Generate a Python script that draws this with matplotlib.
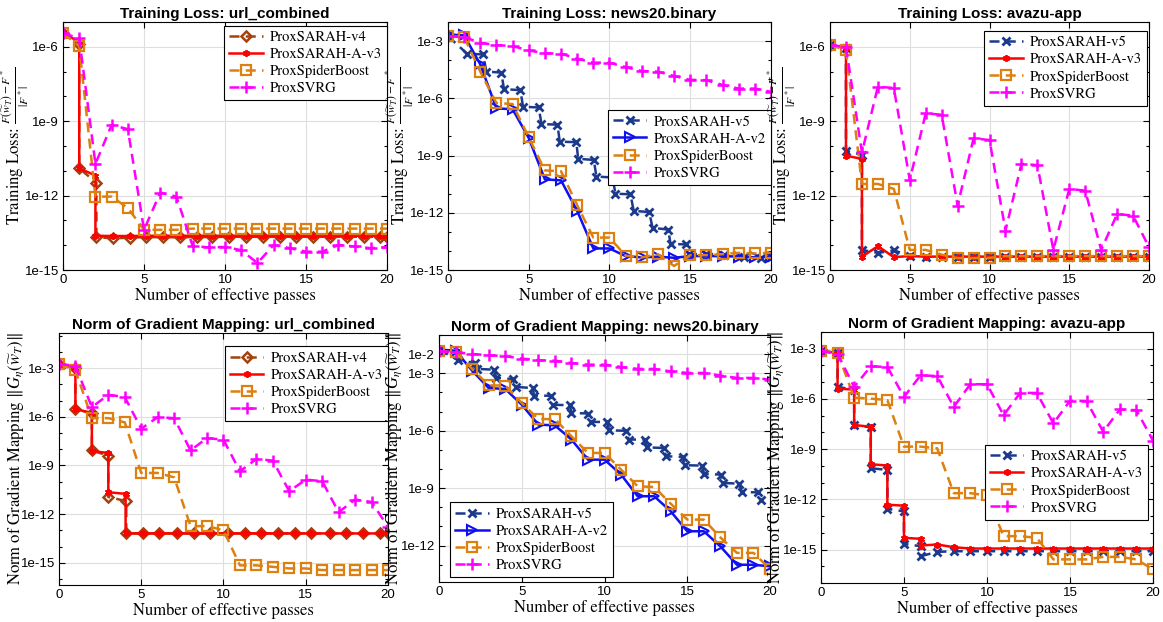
import numpy as np
import matplotlib
matplotlib.use("Agg")
import matplotlib.pyplot as plt
from matplotlib.ticker import FixedLocator, FuncFormatter, NullFormatter

plt.rcParams['mathtext.fontset'] = 'stix'
plt.rcParams['font.family'] = ['Liberation Sans', 'DejaVu Sans']

# all y values are log10 of the plotted quantity
passes = list(range(21))

# --- Training loss: url_combined
url_loss_v4_x = [0, 1, 1, 2.06, 2.06, 3.09, 4.12, 5.11, 6.19, 7.22, 8.25, 9.22, 10.27,
                 11.3, 12.37, 13.4, 14.39, 15.46, 16.49, 17.53, 18.56, 19.59, 20]
url_loss_v4_y = [-5.45, -5.9, -10.9, -11.48, -13.68, -13.72, -13.7, -13.67, -13.68, -13.68,
                 -13.67, -13.67, -13.66, -13.66, -13.66, -13.66, -13.66, -13.66, -13.66,
                 -13.66, -13.66, -13.66, -13.65]
url_loss_a3_x = [0, 1, 1, 2, 2, 3.09, 4.12, 5.11, 6.19, 7.22, 8.25, 9.22, 10.27,
                 11.3, 12.37, 13.4, 14.39, 15.46, 16.49, 17.53, 18.56, 19.59, 20]
url_loss_a3_y = [-5.45, -5.8, -10.9, -11.19, -13.62, -13.63, -13.63, -13.62, -13.62, -13.62,
                 -13.62, -13.62, -13.62, -13.62, -13.62, -13.62, -13.62, -13.62, -13.62,
                 -13.62, -13.62, -13.62, -13.62]
url_loss_spider_y = [-5.45, -5.97, -12.04, -12.04, -12.5, -13.38, -13.38, -13.38, -13.33, -13.33,
                     -13.33, -13.33, -13.33, -13.33, -13.33, -13.33, -13.33, -13.33, -13.33,
                     -13.33, -13.33]
url_loss_svrg_y = [-5.45, -5.66, -10.72, -9.15, -9.32, -13.38, -11.88, -12.04, -14.03, -14.09,
                   -14.07, -14.2, -14.72, -13.99, -14.12, -14.26, -14.26, -13.99, -14.05,
                   -14.12, -14.08]

# --- Training loss: news20.binary
news_loss_v5_x = [0, 1.18, 2.17, 2.38, 3.3, 3.47, 4.48, 4.65, 5.62, 5.79, 6.78, 6.92, 7.95,
                  8.06, 9.03, 9.19, 10.19, 10.37, 11.3, 11.5, 12.46, 12.67, 13.64, 13.78,
                  14.73, 14.9, 16.0, 17.1, 18.3, 19.4, 20]
news_loss_v5_y = [-2.74, -3.66, -3.7, -4.6, -4.65, -5.52, -5.57, -6.44, -6.48, -7.35, -7.38,
                  -8.27, -8.3, -9.17, -9.23, -10.1, -10.15, -11.0, -11.03, -11.9, -11.96,
                  -12.79, -12.88, -13.63, -13.66, -14.18, -14.15, -14.2, -14.3, -14.38, -14.3]
news_loss_a2_y = [-2.65, -2.7, -4.22, -6.53, -6.57, -8.08, -10.25, -10.3, -11.9, -13.87, -13.87,
                  -14.27, -14.34, -14.3, -14.36, -14.27, -14.27, -14.27, -14.3, -14.34, -14.3]
news_loss_spider_y = [-2.74, -2.79, -4.6, -6.25, -6.3, -8.04, -9.78, -9.82, -11.6, -13.3, -13.3,
                      -14.25, -14.34, -14.17, -14.79, -14.22, -14.22, -14.17, -14.1, -14.13, -14.1]
news_loss_svrg_y = [-2.74, -2.79, -3.09, -3.21, -3.26, -3.49, -3.64, -3.66, -3.92, -4.13, -4.13,
                    -4.36, -4.57, -4.6, -4.83, -5.03, -5.05, -5.3, -5.49, -5.49, -5.66]

# --- Training loss: avazu-app
avazu_loss_v5_x = [0, 1, 1, 2, 2] + list(range(3, 21))
avazu_loss_v5_y = [-5.93, -6.03, -10.2, -10.35, -14.19, -14.31, -14.21, -14.42, -14.46, -14.46,
                   -14.46, -14.46, -14.46, -14.46, -14.46, -14.46, -14.46, -14.46, -14.46,
                   -14.46, -14.46, -14.46, -14.46]
avazu_loss_a3_y = [-5.93, -6.03, -10.39, -10.52, -14.46, -14.04, -14.48, -14.44, -14.46, -14.46,
                   -14.46, -14.46, -14.46, -14.46, -14.46, -14.46, -14.46, -14.46, -14.46,
                   -14.46, -14.46, -14.46, -14.46]
avazu_loss_spider_y = [-5.93, -6.13, -11.53, -11.53, -11.73, -14.19, -14.19, -14.38, -14.52,
                       -14.52, -14.51, -14.44, -14.44, -14.44, -14.44, -14.44, -14.44, -14.44,
                       -14.44, -14.44, -14.44]
avazu_loss_svrg_y = [-5.93, -6.0, -10.26, -7.61, -7.66, -11.37, -8.68, -8.74, -12.4, -9.69,
                     -9.76, -13.41, -10.72, -10.77, -14.19, -11.73, -11.8, -14.19, -12.74,
                     -12.81, -14.08]

# --- Gradient mapping: url_combined
url_grad_v4_x = [0, 1, 1, 2, 2, 3, 3, 4.09, 4.09, 5.1, 6.11, 7.19, 8.21, 9.2, 10.27, 11.29,
                 12.3, 13.31, 14.33, 15.34, 16.45, 17.47, 18.48, 19.49, 20]
url_grad_v4_y = [-2.73, -3.0, -5.52, -5.77, -8.07, -8.4, -10.94, -11.2, -13.19, -13.19, -13.19,
                 -13.19, -13.19, -13.19, -13.19, -13.19, -13.19, -13.19, -13.19, -13.19,
                 -13.19, -13.19, -13.19, -13.19, -13.19]
url_grad_a3_x = [0, 1, 1, 2, 2, 3, 3, 4.05, 4.05, 5.1, 6.11, 7.19, 8.21, 9.2, 10.27, 11.29,
                 12.3, 13.31, 14.33, 15.34, 16.45, 17.47, 18.48, 19.49, 20]
url_grad_a3_y = [-2.73, -3.0, -5.52, -5.77, -8.11, -8.23, -10.65, -10.75, -13.19, -13.19,
                 -13.19, -13.19, -13.19, -13.19, -13.19, -13.19, -13.19, -13.19, -13.19,
                 -13.19, -13.19, -13.19, -13.19, -13.19, -13.19]
url_grad_spider_y = [-2.73, -3.14, -6.08, -6.08, -6.34, -9.46, -9.46, -9.73, -12.74, -12.74,
                     -12.99, -15.16, -15.16, -15.25, -15.35, -15.35, -15.45, -15.45, -15.45,
                     -15.45, -15.45]
url_grad_svrg_y = [-2.73, -2.86, -5.4, -4.64, -4.78, -6.73, -6.02, -6.08, -8.07, -7.31, -7.41,
                   -9.36, -8.6, -8.7, -10.59, -9.87, -9.97, -11.88, -11.1, -11.25, -12.78]

# --- Gradient mapping: news20.binary
news_grad_v5_x = [0, 1.15, 2.16, 2.3, 3.3, 3.47, 4.48, 4.64, 5.65, 5.75, 6.75, 6.9, 7.9, 8.0,
                  9.0, 9.17, 10.16, 10.28, 11.27, 11.47, 12.44, 12.58, 13.59, 13.71, 14.72,
                  14.86, 15.87, 16.03, 17.02, 17.14, 18.13, 18.29, 19.3, 19.44]
news_grad_v5_y = [-1.76, -2.32, -2.46, -2.77, -2.81, -3.24, -3.3, -3.71, -3.77, -4.17, -4.17,
                  -4.64, -4.67, -5.07, -5.1, -5.54, -5.54, -5.98, -6.0, -6.46, -6.46, -6.87,
                  -6.9, -7.33, -7.37, -7.8, -7.82, -8.26, -8.29, -8.73, -8.76, -9.2, -9.22, -9.63]
news_grad_a2_y = [-1.76, -1.82, -2.86, -3.77, -3.82, -4.64, -5.68, -5.72, -6.46, -7.51, -7.51,
                  -8.29, -9.42, -9.42, -10.21, -11.25, -11.25, -12.04, -13.0, -13.0, -13.08]
news_grad_spider_y = [-1.85, -1.9, -2.77, -3.63, -3.64, -4.55, -5.39, -5.39, -6.29, -7.16, -7.16,
                      -8.03, -8.9, -8.94, -9.81, -10.64, -10.64, -11.57, -12.38, -12.38, -13.22]
news_grad_svrg_y = [-1.85, -1.9, -1.99, -2.06, -2.11, -2.23, -2.32, -2.34, -2.46, -2.55, -2.55,
                    -2.67, -2.77, -2.77, -2.9, -2.98, -2.98, -3.12, -3.24, -3.24, -3.33]

# --- Gradient mapping: avazu-app
avazu_grad_v5_x = [0, 1, 1, 2, 2, 3, 3, 4, 4, 5, 5, 6, 6] + list(range(7, 21))
avazu_grad_v5_y = [-3.14, -3.24, -5.28, -5.44, -7.56, -7.7, -10.14, -10.24, -12.56, -12.72,
                   -14.66, -14.8, -15.4, -15.14, -15.1, -15.1, -15.1, -15.1, -15.1, -15.1,
                   -15.1, -15.1, -15.1, -15.1, -15.1, -15.1, -15.1]
avazu_grad_a3_y = [-3.14, -3.24, -5.38, -5.44, -7.56, -7.66, -9.9, -9.98, -12.32, -12.38,
                   -14.3, -14.36, -14.76, -14.7, -14.86, -14.94, -14.94, -14.94, -14.94, -14.94,
                   -14.94, -14.94, -14.94, -14.94, -14.94, -14.94, -14.94]
avazu_grad_spider_y = [-3.14, -3.24, -5.92, -5.98, -6.07, -8.85, -8.85, -8.95, -11.63, -11.63,
                       -11.77, -14.2, -14.2, -14.3, -15.59, -15.59, -15.59, -15.44, -15.44,
                       -15.59, -16.19]
avazu_grad_svrg_y = [-3.14, -3.3, -5.28, -4.05, -4.09, -5.88, -4.59, -4.63, -6.47, -5.12, -5.12,
                     -6.97, -5.64, -5.64, -7.46, -6.11, -6.13, -7.96, -6.63, -6.67, -8.49]

STYLE = {
    'ProxSARAH-v4': dict(color='#A2420E', ls='--', marker='D', ms=5, mfc='none', mew=1.8),
    'ProxSARAH-A-v3': dict(color='#FF0000', ls='-', marker=(6, 2, 0), ms=5, mew=1.3),
    'ProxSpiderBoost': dict(color='#DD8010', ls='--', marker='s', ms=6.5, mfc='none', mew=1.6),
    'ProxSVRG': dict(color='#FF00FF', ls='--', marker='+', ms=9, mew=1.8),
    'ProxSARAH-v5': dict(color='#1B3A8C', ls='--', marker='x', ms=5.5, mew=2),
    'ProxSARAH-A-v2': dict(color='#0F0FF0', ls='-', marker='>', ms=7, mfc='none', mew=1.5),
}

loss_label = r'Training Loss: $\frac{F(\widetilde{w}_T)-F^*}{|F^*|}$'
grad_label = r'Norm of Gradient Mapping $\Vert G_\eta(\widetilde{w}_T)\Vert$'

panels = [
    dict(rect=[0.0542, 0.5659, 0.2786, 0.3987], title='Training Loss: url_combined',
         ylabel=loss_label, ylab_x=-0.098, ylim=(-15, -5), majors=[-15, -12, -9, -6],
         series=[('ProxSARAH-v4', url_loss_v4_x, url_loss_v4_y),
                 ('ProxSARAH-A-v3', url_loss_a3_x, url_loss_a3_y),
                 ('ProxSpiderBoost', passes, url_loss_spider_y),
                 ('ProxSVRG', passes, url_loss_svrg_y)],
         leg=dict(loc='upper right', bbox_to_anchor=(1.0, 0.985))),
    dict(rect=[0.3852, 0.5659, 0.2777, 0.3987], title='Training Loss: news20.binary',
         ylabel=loss_label, ylab_x=-0.1, ylim=(-15, -2), majors=[-15, -12, -9, -6, -3],
         series=[('ProxSARAH-v5', news_loss_v5_x, news_loss_v5_y),
                 ('ProxSARAH-A-v2', passes, news_loss_a2_y),
                 ('ProxSpiderBoost', passes, news_loss_spider_y),
                 ('ProxSVRG', passes, news_loss_svrg_y)],
         leg=dict(loc='upper right', bbox_to_anchor=(1.0, 0.645))),
    dict(rect=[0.7137, 0.5659, 0.2743, 0.3987], title='Training Loss: avazu-app',
         ylabel=loss_label, ylab_x=-0.1, ylim=(-15, -5), majors=[-15, -12, -9, -6],
         series=[('ProxSARAH-v5', avazu_loss_v5_x, avazu_loss_v5_y),
                 ('ProxSARAH-A-v3', avazu_loss_v5_x, avazu_loss_a3_y),
                 ('ProxSpiderBoost', passes, avazu_loss_spider_y),
                 ('ProxSVRG', passes, avazu_loss_svrg_y)],
         leg=dict(loc='upper right', bbox_to_anchor=(0.994, 0.964))),
    dict(rect=[0.0507, 0.0595, 0.2829, 0.4051], title='Norm of Gradient Mapping: url_combined',
         ylabel=grad_label, ylab_x=-0.1, ylim=(-16.37, -0.83), majors=[-15, -12, -9, -6, -3],
         series=[('ProxSARAH-v4', url_grad_v4_x, url_grad_v4_y),
                 ('ProxSARAH-A-v3', url_grad_a3_x, url_grad_a3_y),
                 ('ProxSpiderBoost', passes, url_grad_spider_y),
                 ('ProxSVRG', passes, url_grad_svrg_y)],
         leg=dict(loc='upper right', bbox_to_anchor=(1.0, 0.948))),
    dict(rect=[0.3775, 0.0643, 0.2846, 0.3971], title='Norm of Gradient Mapping: news20.binary',
         ylabel=grad_label, ylab_x=-0.105, ylim=(-13.9, -1.0), majors=[-12, -9, -6, -3, -2],
         series=[('ProxSARAH-v5', news_grad_v5_x, news_grad_v5_y),
                 ('ProxSARAH-A-v2', passes, news_grad_a2_y),
                 ('ProxSpiderBoost', passes, news_grad_spider_y),
                 ('ProxSVRG', passes, news_grad_svrg_y)],
         leg=dict(loc='lower left', bbox_to_anchor=(0.033, 0.02))),
    dict(rect=[0.7059, 0.0627, 0.2855, 0.4035], title='Norm of Gradient Mapping: avazu-app',
         ylabel=grad_label, ylab_x=-0.105, ylim=(-17, -2), majors=[-15, -12, -9, -6, -3],
         series=[('ProxSARAH-v5', avazu_grad_v5_x, avazu_grad_v5_y),
                 ('ProxSARAH-A-v3', avazu_grad_v5_x, avazu_grad_a3_y),
                 ('ProxSpiderBoost', passes, avazu_grad_spider_y),
                 ('ProxSVRG', passes, avazu_grad_svrg_y)],
         leg=dict(loc='upper right', bbox_to_anchor=(0.985, 0.55))),
]

fig = plt.figure(figsize=(11.63, 6.22), dpi=100)

for p in panels:
    ax = fig.add_axes(p['rect'])
    for name, xs, ys in p['series']:
        st = STYLE[name]
        ax.plot(xs, 10.0 ** np.array(ys), label=name, lw=1.8,
                dashes=(4, 2.5) if st['ls'] == '--' else (None, None),
                color=st['color'], marker=st['marker'], ms=st['ms'], mew=st['mew'],
                mfc=st.get('mfc', st['color']), mec=st['color'])
    ax.set_yscale('log')
    lo, hi = p['ylim']
    ax.set_ylim(10.0 ** lo, 10.0 ** hi)
    ax.set_xlim(0, 20)
    ax.set_xticks([0, 5, 10, 15, 20])
    ax.yaxis.set_major_locator(FixedLocator([10.0 ** e for e in p['majors']]))
    ax.yaxis.set_major_formatter(FuncFormatter(lambda v, pos: '1e%d' % round(np.log10(v))))
    minors = [10.0 ** e for e in range(int(np.ceil(lo)), int(np.floor(hi)) + 1)
              if e not in p['majors']]
    ax.yaxis.set_minor_locator(FixedLocator(minors))
    ax.yaxis.set_minor_formatter(NullFormatter())
    ax.tick_params(which='both', direction='in', top=True, right=True, labelsize=9.5, pad=3)
    ax.tick_params(which='major', length=4.5, width=0.8)
    ax.tick_params(which='minor', length=2.5, width=0.8)
    ax.grid(True, which='major', color='0.87', lw=0.8)
    ax.set_axisbelow(True)
    for s in ax.spines.values():
        s.set_linewidth(0.8)
    ax.set_title(p['title'], fontsize=11, fontweight='bold', pad=3)
    ax.set_xlabel('Number of effective passes', family='STIXGeneral', fontsize=12, labelpad=1.5)
    ax.set_ylabel(p['ylabel'], family='STIXGeneral', fontsize=12)
    ax.yaxis.set_label_coords(p['ylab_x'], 0.5)
    leg = ax.legend(prop={'family': 'STIXGeneral', 'size': 10.5}, fancybox=False, framealpha=1,
                    edgecolor='black', borderaxespad=0, handlelength=2.3, labelspacing=0.25,
                    borderpad=0.35, handletextpad=0.5, **p['leg'])
    leg.get_frame().set_linewidth(0.8)

fig.savefig('out.png', dpi=100)
